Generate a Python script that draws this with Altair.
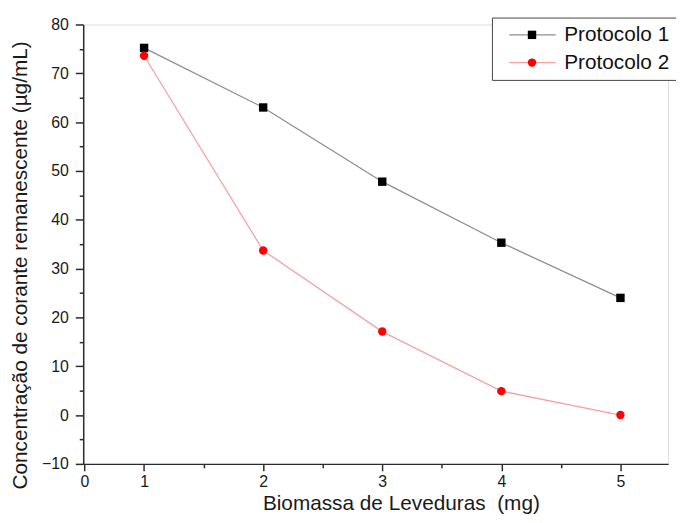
import altair as alt
import pandas as pd

# ---- data ----
biomassa = [1, 2, 3, 4, 5]
protocolo_1 = [75.2, 63.0, 47.8, 35.3, 24.0]
protocolo_2 = [73.6, 33.7, 17.1, 4.9, 0.0]
series_names = ["Protocolo 1", "Protocolo 2"]
x_major_ticks = [0.5, 1, 2, 3, 4, 5]
x_minor_ticks = [1.5, 2.5, 3.5, 4.5]
y_major_ticks = list(range(-10, 85, 10))
y_minor_ticks = list(range(-5, 80, 10))

rows = []
for xv, v in zip(biomassa, protocolo_1):
    rows.append({"x": xv, "y": v, "series": series_names[0]})
for xv, v in zip(biomassa, protocolo_2):
    rows.append({"x": xv, "y": v, "series": series_names[1]})
df = pd.DataFrame(rows)

FONT = "Liberation Sans"
AX = "#2b2b2b"
X_DOMAIN = [0.489, 5.4]
Y_DOMAIN = [-10, 80]

common_axis = dict(
    grid=False,
    labelFont=FONT,
    labelFontSize=16,
    labelColor="#1a1a1a",
    labelOverlap=False,
    labelFlush=False,
    domainColor=AX,
    domainWidth=1.5,
    tickColor=AX,
    tickWidth=1.5,
    titleFont=FONT,
    titleFontWeight="normal",
    titleColor="#1a1a1a",
)

x_axis = alt.Axis(
    values=x_major_ticks,
    labelExpr="datum.value == 0.5 ? '0' : format(datum.value, 'd')",
    tickSize=7,
    title="Biomassa de Leveduras\u00a0 (mg)",
    titleX=321,
    titleY=46,
    titleBaseline="alphabetic",
    titleFontSize=21,
    labelPadding=3,
    **common_axis,
)

y_axis = alt.Axis(
    values=y_major_ticks,
    format="d",
    tickSize=8,
    title="Concentração de corante remanescente (µg/mL)",
    titleX=-57,
    titleY=243,
    titleBaseline="alphabetic",
    titleFontSize=21,
    labelPadding=7,
    **common_axis,
)

x_minor_axis = alt.Axis(
    orient="bottom",
    values=x_minor_ticks,
    labels=False,
    domain=False,
    title=None,
    tickSize=4,
    tickColor=AX,
    tickWidth=1.5,
    grid=False,
)

y_minor_axis = alt.Axis(
    orient="left",
    values=y_minor_ticks,
    labels=False,
    domain=False,
    title=None,
    tickSize=4,
    tickColor=AX,
    tickWidth=1.5,
    grid=False,
)

line_legend = alt.Legend(
    title=None,
    orient="none",
    legendX=413,
    legendY=-7,
    direction="vertical",
    symbolType="M0,0H10.5",
    symbolSize=80,
    symbolStrokeWidth=1.3,
    labelFont=FONT,
    labelFontSize=21,
    labelColor="#111111",
    labelOffset=45,
    rowPadding=6,
    padding=7,
    strokeColor="#444444",
    fillColor="white",
)

point_legend = alt.Legend(
    title=None,
    orient="none",
    legendX=436,
    legendY=-7,
    direction="vertical",
    symbolSize=72,
    symbolStrokeWidth=0,
    labelFont=FONT,
    labelFontSize=21,
    labelExpr="''",
    labelOffset=2,
    rowPadding=6,
    padding=7,
)

base = alt.Chart(df)

x_enc = alt.X("x:Q", scale=alt.Scale(domain=X_DOMAIN, nice=False, zero=False), axis=x_axis)
y_enc = alt.Y("y:Q", scale=alt.Scale(domain=Y_DOMAIN, nice=False, zero=False), axis=y_axis)

lines = base.mark_line(strokeWidth=1.3).encode(
    x=x_enc,
    y=y_enc,
    color=alt.Color(
        "series:N",
        scale=alt.Scale(domain=series_names, range=["#8e8e8e", "#f4a3a3"]),
        legend=line_legend,
    ),
)

points = base.mark_point(filled=True, size=72, opacity=1).encode(
    x=x_enc,
    y=y_enc,
    fill=alt.Fill(
        "series:N",
        scale=alt.Scale(domain=series_names, range=["#000000", "#ff0000"]),
        legend=point_legend,
    ),
    shape=alt.Shape(
        "series:N",
        scale=alt.Scale(domain=series_names, range=["square", "circle"]),
        legend=point_legend,
    ),
)

main = alt.layer(lines, points).resolve_scale(color="independent", fill="independent", shape="independent")

minor = base.mark_point(opacity=0).encode(
    x=alt.X("x:Q", scale=alt.Scale(domain=X_DOMAIN, nice=False, zero=False), axis=x_minor_axis),
    y=alt.Y("y:Q", scale=alt.Scale(domain=Y_DOMAIN, nice=False, zero=False), axis=y_minor_axis),
)

chart = (
    alt.layer(main, minor)
    .resolve_scale(x="independent", y="independent")
    .properties(
        width=591,
        height=444,
        autosize=alt.AutoSizeParams(type="none"),
        padding={"left": 76, "top": 14, "right": 8, "bottom": 49},
    )
    .configure_view(stroke=None)
    .configure(background="white")
)

chart.save("out.html", embed_options={"renderer": "svg", "actions": False})
